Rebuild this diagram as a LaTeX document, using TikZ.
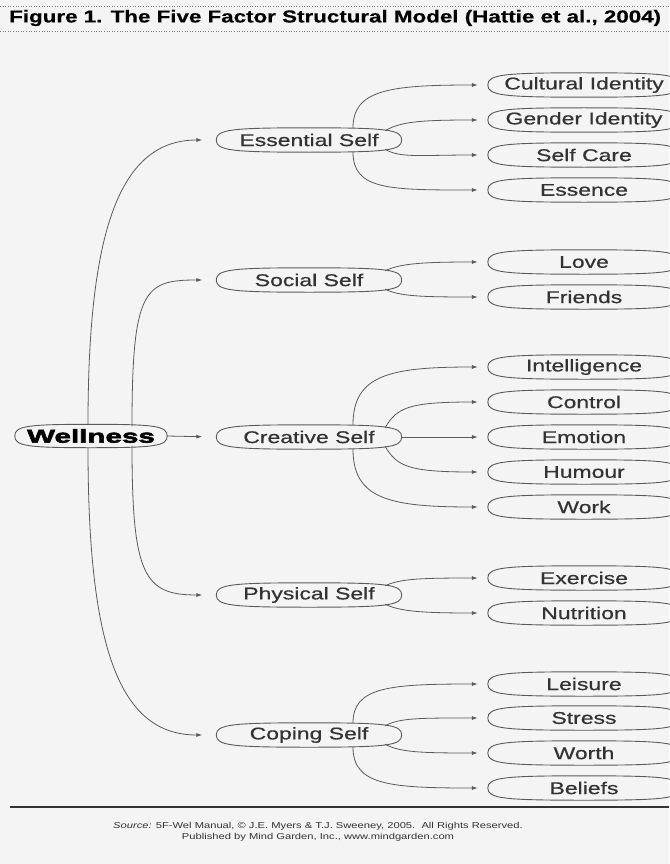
\documentclass[tikz,border=0pt]{standalone}
\usepackage{fontspec}
\setmainfont{Liberation Sans}
\newfontfamily\nodefont{Liberation Sans}[FakeStretch=1.35,FakeBold=0.6]
\newfontfamily\titlefont{Liberation Sans}[FakeStretch=1.3,FakeBold=0.5]
\newfontfamily\heavyfont{Liberation Sans}[FakeStretch=1.6,FakeBold=3]
\newfontfamily\footfont{Liberation Sans}[FakeStretch=1.3]
\usetikzlibrary{arrows.meta,calc}
\definecolor{linec}{HTML}{5A5A5A}
\definecolor{textc}{HTML}{333333}
\definecolor{bgc}{HTML}{F4F4F4}
\begin{document}
\begin{tikzpicture}[x=1pt,y=-1pt,
  oval/.style={rectangle, minimum height=24pt,
    inner sep=0pt, text=textc, font=\nodefont\fontsize{17}{20}\selectfont},
  leaf/.style={oval, minimum width=192pt},
  mid/.style={oval, minimum width=185pt},
  root/.style={oval, minimum width=152pt, minimum height=23pt, text=black,
    font=\heavyfont\bfseries\fontsize{18.5}{20}\selectfont},
  ovl/.style={draw=linec, line width=0.9pt},
  arr/.style={draw=linec, line width=0.8pt, -{Latex[length=6pt,width=4pt]}, shorten >=10pt},
  arrm/.style={arr, shorten >=14pt},
  rule/.style={draw=linec!80, line width=0.6pt, dotted}]
\useasboundingbox (0,0) rectangle (669,864);
\fill[bgc] (0,0) rectangle (669,864);

% title
\node[anchor=west, text=black, font=\titlefont\bfseries\fontsize{17.2}{20}\selectfont, inner sep=0pt]
  (title) at (9,18) {Figure 1. The Five Factor Structural Model (Hattie et al., 2004)};
\draw[rule] (0,6) -- (669,6);
\draw[rule] (0,31) -- (669,31);

% root
\node[root] (W) at (91,436) {Wellness};

% mid level
\node[mid] (E) at (309,140) {Essential Self};
\node[mid] (S) at (309,280) {Social Self};
\node[mid] (C) at (309,437) {Creative Self};
\node[mid] (P) at (309,595) {Physical Self};
\node[mid] (K) at (309,735) {Coping Self};

% leaves
\node[leaf] (E1) at (584,85)  {Cultural Identity};
\node[leaf] (E2) at (584,120) {Gender Identity};
\node[leaf] (E3) at (584,155) {Self Care};
\node[leaf] (E4) at (584,190) {Essence};
\node[leaf] (S1) at (584,262) {Love};
\node[leaf] (S2) at (584,297) {Friends};
\node[leaf] (C1) at (584,367) {Intelligence};
\node[leaf] (C2) at (584,402) {Control};
\node[leaf] (C3) at (584,437) {Emotion};
\node[leaf] (C4) at (584,472) {Humour};
\node[leaf] (C5) at (584,507) {Work};
\node[leaf] (P1) at (584,578) {Exercise};
\node[leaf] (P2) at (584,613) {Nutrition};
\node[leaf] (K1) at (584,684) {Leisure};
\node[leaf] (K2) at (584,718) {Stress};
\node[leaf] (K3) at (584,753) {Worth};
\node[leaf] (K4) at (584,788) {Beliefs};

% oval outlines (between ellipse and stadium)
\foreach \n in {W,E,S,C,P,K,E1,E2,E3,E4,S1,S2,C1,C2,C3,C4,C5,P1,P2,K1,K2,K3,K4}{
  \draw[ovl] (\n.west)
    .. controls ($(\n.west)!0.86!(\n.north west)$) and ($(\n.north)!0.84!(\n.north west)$) .. (\n.north)
    .. controls ($(\n.north)!0.84!(\n.north east)$) and ($(\n.east)!0.86!(\n.north east)$) .. (\n.east)
    .. controls ($(\n.east)!0.86!(\n.south east)$) and ($(\n.south)!0.84!(\n.south east)$) .. (\n.south)
    .. controls ($(\n.south)!0.84!(\n.south west)$) and ($(\n.west)!0.86!(\n.south west)$) .. (\n.west) -- cycle;
}

% root -> mids
\draw[arrm] ($(W.north)+(-3,0)$) .. controls +(0,-193) and +(-97,0) .. (E.west);
\draw[arrm] ($(W.north)+(41,2)$) .. controls +(0,-137) and +(-72,0) .. (S.west);
\draw[arrm] (W.east) -- (C.west);
\draw[arrm] ($(W.south)+(41,-2)$) .. controls +(0,130) and +(-72,0) .. (P.west);
\draw[arrm] ($(W.south)+(-3,0)$) .. controls +(0,200) and +(-97,0) .. (K.west);

% Essential
\draw[arr] ($(E.north)+(44,0)$) .. controls +(0,-38) and +(-98,0) .. (E1.west);
\draw[arr] ($(E.north)+(76,3)$) .. controls +(15,-9) and +(-68,0) .. (E2.west);
\draw[arr] ($(E.south)+(76,-3)$) .. controls +(15,9) and +(-68,0) .. (E3.west);
\draw[arr] ($(E.south)+(44,0)$) .. controls +(0,38) and +(-98,0) .. (E4.west);

% Social
\draw[arr] ($(S.north)+(76,3)$) .. controls +(15,-7) and +(-68,0) .. (S1.west);
\draw[arr] ($(S.south)+(76,-3)$) .. controls +(15,7) and +(-68,0) .. (S2.west);

% Creative
\draw[arr] ($(C.north)+(44,0)$) .. controls +(0,-50) and +(-98,0) .. (C1.west);
\draw[arr] ($(C.north)+(76,3)$) .. controls +(12,-20) and +(-80,0) .. (C2.west);
\draw[arr] (C.east) -- (C3.west);
\draw[arr] ($(C.south)+(76,-3)$) .. controls +(12,20) and +(-80,0) .. (C4.west);
\draw[arr] ($(C.south)+(44,0)$) .. controls +(0,50) and +(-98,0) .. (C5.west);

% Physical
\draw[arr] ($(P.north)+(76,3)$) .. controls +(15,-7) and +(-68,0) .. (P1.west);
\draw[arr] ($(P.south)+(76,-3)$) .. controls +(15,7) and +(-68,0) .. (P2.west);

% Coping
\draw[arr] ($(K.north)+(44,0)$) .. controls +(0,-36) and +(-98,0) .. (K1.west);
\draw[arr] ($(K.north)+(76,3)$) .. controls +(15,-8) and +(-68,0) .. (K2.west);
\draw[arr] ($(K.south)+(76,-3)$) .. controls +(15,8) and +(-68,0) .. (K3.west);
\draw[arr] ($(K.south)+(44,0)$) .. controls +(0,38) and +(-98,0) .. (K4.west);

% footer
\coordinate (ruleL) at (10,807);
\coordinate (ruleR) at (669,807);
\draw[draw=black!80, line width=2.6pt] (ruleL) -- (ruleR);
\node[text=textc, font=\footfont\fontsize{8.6}{11.5}\selectfont, align=center, inner sep=0pt]
  (foot) at (318,832)
  {\textit{Source:} 5F-Wel Manual, © J.E. Myers \& T.J. Sweeney, 2005.\ \ All Rights Reserved.\\
   Published by Mind Garden, Inc., www.mindgarden.com};
\end{tikzpicture}
\end{document}
